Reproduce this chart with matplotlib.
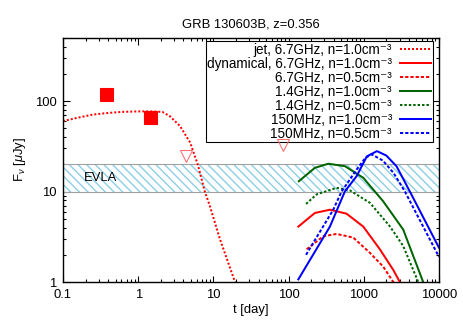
import numpy as np
import matplotlib
matplotlib.use("Agg")
import matplotlib.pyplot as plt

#--------------------------------------------------
# datos (t en dias, F en uJy)

obs_t = [0.37, 1.43]
obs_f = [120, 66]

lim_t = [4.3, 84]
lim_f = [25, 33]

jet_t = [0.1, 0.15, 0.25, 0.4, 0.6, 1.0, 1.5, 2.1, 2.65, 3.6, 4.9, 6.2, 7.7, 9.0, 12.2, 19.4, 25]
jet_f = [60, 65, 71, 74, 76, 77, 77, 76, 68, 53, 35, 20, 10, 6.9, 3.0, 1.0, 0.6]

r1_t = [135, 224, 355, 590, 985, 1640, 2470, 3020, 3300]
r1_f = [4.1, 5.8, 6.3, 5.7, 4.1, 2.3, 1.36, 1.0, 0.85]

r05_t = [174, 289, 435, 725, 1210, 1815, 2470, 2700]
r05_f = [2.3, 3.2, 3.4, 3.1, 2.1, 1.48, 1.0, 0.9]

g1_t = [137, 224, 337, 562, 985, 1815, 3350, 6170, 6500]
g1_f = [13, 18.3, 20.3, 19.1, 14.2, 7.8, 3.8, 1.0, 0.9]

g05_t = [171, 236, 435, 656, 1210, 2240, 3350, 5310, 5600]
g05_f = [7.3, 9.3, 11, 10.3, 7.5, 4.1, 2.5, 1.0, 0.9]

b1_t = [135, 355, 560, 804, 1100, 1500, 2000, 2735, 4110, 10000]
b1_f = [1.07, 4.1, 10, 14.8, 24.5, 28, 25, 19, 10, 2.4]

b05_t = [171, 393, 507, 804, 1050, 1275, 1800, 2500, 3530, 10000]
b05_f = [2.0, 6.3, 10, 17.5, 23.5, 25.8, 22, 16, 10, 1.9]

evla = [10, 20]

labels = ["jet, 6.7GHz, n=1.0cm⁻³",
          "dynamical, 6.7GHz, n=1.0cm⁻³",
          "6.7GHz, n=0.5cm⁻³",
          "1.4GHz, n=1.0cm⁻³",
          "1.4GHz, n=0.5cm⁻³",
          "150MHz, n=1.0cm⁻³",
          "150MHz, n=0.5cm⁻³"]

#--------------------------------------------------

dpi = 78
fs = 12
plt.rcParams['font.family'] = ['Liberation Sans', 'DejaVu Sans']
plt.rcParams['font.size'] = fs
plt.rcParams['hatch.color'] = '#8ccfe6'
plt.rcParams['hatch.linewidth'] = 1.3
plt.rcParams['mathtext.fontset'] = 'custom'
plt.rcParams['mathtext.rm'] = 'Liberation Sans'
plt.rcParams['mathtext.it'] = 'Liberation Sans:italic'

fig = plt.figure(figsize=(463/dpi, 324/dpi), dpi=dpi)
ax = fig.add_axes([0.136, 0.1296, 0.812, 0.7534])

ax.fill_between([0.1, 10000], evla[0], evla[1], facecolor='none', hatch='\\\\\\', edgecolor='#8ccfe6', linewidth=0)
ax.axhline(evla[0], color='#a0a0a0', lw=1.0)
ax.axhline(evla[1], color='#a0a0a0', lw=1.0)
ax.text(0.19, 14, "EVLA", fontsize=fs, va='center')

lw = 1.85
ax.plot(jet_t, jet_f, color='red', lw=lw, ls=(0, (1, 1)), label=labels[0])
ax.plot(r1_t, r1_f, color='red', lw=lw, label=labels[1])
ax.plot(r05_t, r05_f, color='red', lw=lw, ls=(0, (1.6, 1)), label=labels[2])
ax.plot(g1_t, g1_f, color='#006400', lw=lw, label=labels[3])
ax.plot(g05_t, g05_f, color='#006400', lw=lw, ls=(0, (1.2, 1)), label=labels[4])
ax.plot(b1_t, b1_f, color='blue', lw=lw, label=labels[5])
ax.plot(b05_t, b05_f, color='blue', lw=lw, ls=(0, (1.6, 1)), label=labels[6])

ax.plot(obs_t, obs_f, 's', color='red', ms=12, mec='red')
ax.plot(lim_t, lim_f, 'v', mfc='none', mec='#ff7070', ms=11, mew=1.0, zorder=6)

ax.set_xscale('log')
ax.set_yscale('log')
ax.set_xlim(0.1, 10000)
ax.set_ylim(1, 500)
ax.set_xticks([0.1, 1, 10, 100, 1000, 10000])
ax.set_xticklabels(["0.1", "1", "10", "100", "1000", "10000"])
ax.set_yticks([1, 10, 100])
ax.set_yticklabels(["1", "10", "100"])
ax.tick_params(which='both', direction='in', top=True, right=True, labelsize=fs, width=1.0)
ax.tick_params(which='major', length=6, pad=6)
ax.tick_params(which='minor', length=3)
for s in ax.spines.values():
    s.set_linewidth(1.3)

ax.set_xlabel("t [day]", fontsize=fs, labelpad=3)
ax.set_ylabel("F$_\\nu$ [$\\mu$Jy]", fontsize=fs, labelpad=6)
ax.set_title("GRB 130603B, z=0.356", fontsize=fs, pad=10)

leg = ax.legend(loc='upper right', bbox_to_anchor=(0.983, 0.986), markerfirst=False,
                fontsize=12.5, labelspacing=0.0, handlelength=2.3, handletextpad=0.6,
                borderpad=0.1, borderaxespad=0, fancybox=False, framealpha=1, edgecolor='black')
leg.get_frame().set_linewidth(1.0)
for t in leg.get_texts():
    t.set_ha('right')
leg._legend_box.align = 'right'

fig.savefig("out.png", dpi=dpi)
